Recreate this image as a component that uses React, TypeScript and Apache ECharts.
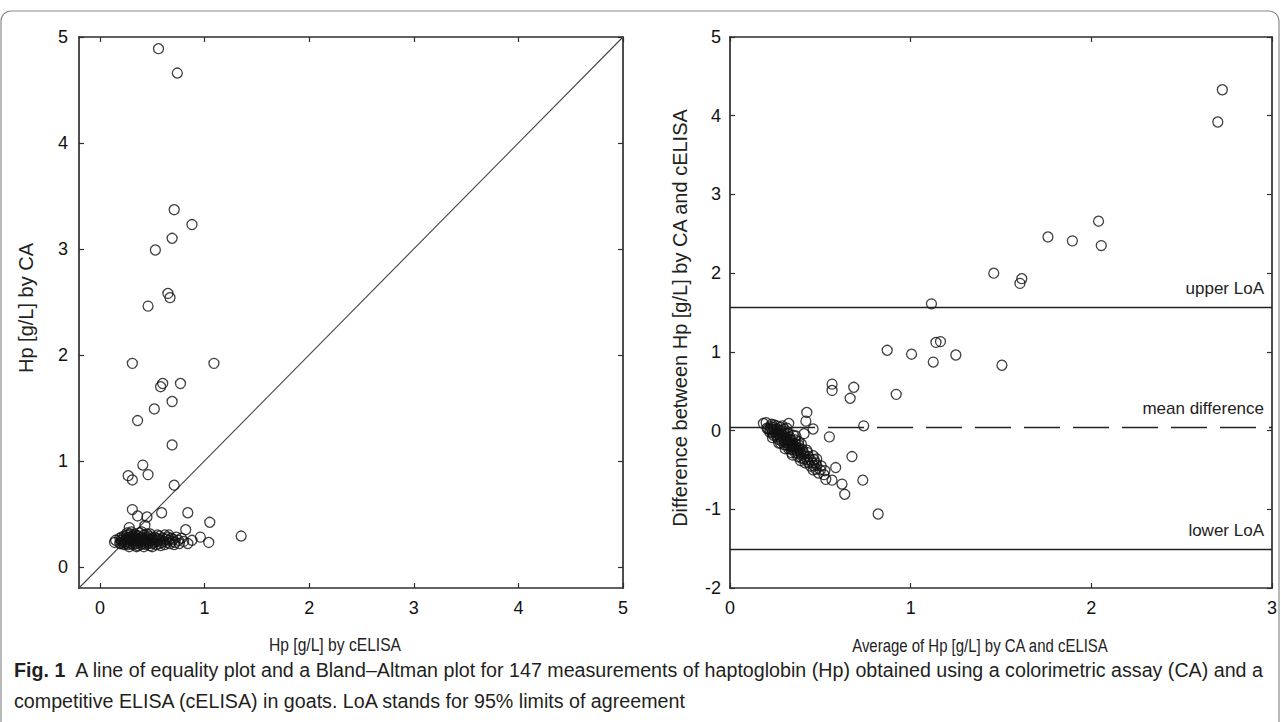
import React, { useEffect, useRef } from "react";
import * as echarts from "echarts";

// Paired measurements (147 goats): cELISA and CA haptoglobin, g/L
const celisaValues = [
  0.56, 0.74, 0.71, 0.88, 0.69, 0.53, 0.65, 0.67, 0.46, 0.31, 1.09, 0.60, 0.58, 0.77, 0.69, 0.52, 0.36, 0.69,
  0.41, 0.46, 0.27, 0.31, 0.71, 0.31, 0.36, 0.45, 0.59, 0.84, 1.05, 1.35, 0.82, 0.28, 0.43, 1.04, 0.96, 0.84,
  0.14, 0.15, 0.19, 0.20, 0.20, 0.21, 0.22, 0.22, 0.23, 0.23,
  0.24, 0.24, 0.25, 0.25, 0.26, 0.26, 0.27, 0.27, 0.28, 0.28,
  0.29, 0.29, 0.30, 0.30, 0.31, 0.31, 0.32, 0.32, 0.33, 0.33,
  0.34, 0.34, 0.35, 0.35, 0.36, 0.36, 0.37, 0.37, 0.38, 0.38,
  0.39, 0.39, 0.40, 0.40, 0.41, 0.41, 0.42, 0.42, 0.43, 0.43,
  0.44, 0.44, 0.45, 0.45, 0.46, 0.46, 0.47, 0.47, 0.48, 0.48,
  0.49, 0.50, 0.50, 0.51, 0.52, 0.52, 0.53, 0.54, 0.54, 0.55,
  0.56, 0.57, 0.57, 0.58, 0.59, 0.60, 0.61, 0.62, 0.63, 0.64,
  0.65, 0.66, 0.67, 0.68, 0.69, 0.70, 0.72, 0.73, 0.75, 0.76,
  0.78, 0.80, 0.45, 0.38, 0.30, 0.26, 0.55, 0.62, 0.35, 0.42,
  0.50, 0.28, 0.58, 0.40, 0.48, 0.33, 0.21, 0.19, 0.66, 0.71, 0.88,
];
const caValues = [
  4.89, 4.66, 3.37, 3.23, 3.10, 2.99, 2.58, 2.54, 2.46, 1.92, 1.92, 1.73, 1.70, 1.73, 1.56, 1.49, 1.38, 1.15,
  0.96, 0.87, 0.86, 0.82, 0.77, 0.54, 0.48, 0.47, 0.51, 0.51, 0.42, 0.29, 0.35, 0.37, 0.39, 0.23, 0.28, 0.22,
  0.23, 0.25, 0.27, 0.25, 0.22, 0.28, 0.24, 0.26, 0.21, 0.29,
  0.25, 0.23, 0.27, 0.22, 0.30, 0.24, 0.26, 0.21, 0.28, 0.23,
  0.25, 0.31, 0.22, 0.27, 0.24, 0.29, 0.26, 0.21, 0.28, 0.23,
  0.25, 0.30, 0.22, 0.27, 0.24, 0.20, 0.26, 0.29, 0.23, 0.25,
  0.27, 0.21, 0.24, 0.28, 0.22, 0.26, 0.25, 0.30, 0.23, 0.27,
  0.21, 0.25, 0.28, 0.24, 0.22, 0.26, 0.29, 0.23, 0.25, 0.20,
  0.27, 0.24, 0.22, 0.26, 0.28, 0.23, 0.25, 0.21, 0.27, 0.24,
  0.26, 0.22, 0.29, 0.25, 0.23, 0.27, 0.24, 0.21, 0.26, 0.23,
  0.28, 0.25, 0.22, 0.27, 0.24, 0.26, 0.23, 0.28, 0.25, 0.22,
  0.27, 0.24, 0.31, 0.32, 0.33, 0.32, 0.30, 0.30, 0.19, 0.19,
  0.19, 0.19, 0.20, 0.33, 0.31, 0.31, 0.23, 0.22, 0.30, 0.21, 0.25,
];

// Bland–Altman reference lines
const meanDifference = 0.04;
const upperLoA = 1.57;
const lowerLoA = -1.51;

const leftTicks = [0, 1, 2, 3, 4, 5];
const leftRange = [-0.2, 5];

const captionLine1 =
  "A line of equality plot and a Bland–Altman plot for 147 measurements of haptoglobin (Hp) obtained using a colorimetric assay (CA) and a";
const captionLine2 =
  "competitive ELISA (cELISA) in goats. LoA stands for 95% limits of agreement";

const AX = "#2e2e2e";
const FONT = "'Liberation Sans', Arial, sans-serif";

function axisBase(extra: any) {
  return {
    type: "value",
    axisLine: { show: true, onZero: false, lineStyle: { color: AX, width: 1.7 } },
    splitLine: { show: false },
    axisTick: { show: true, inside: true, length: 5, lineStyle: { color: AX, width: 1.2 } },
    axisLabel: { show: true, color: "#111", fontSize: 18, fontFamily: FONT },
    ...extra,
  };
}

export default function App() {
  const ref = useRef<HTMLDivElement>(null);
  useEffect(() => {
    document.body.style.margin = "0";
    const chart = echarts.init(ref.current!, null, { renderer: "svg" });
    const leftData = celisaValues.map((c, i) => [c, caValues[i]]);
    const rightData = celisaValues.map((c, i) => [(c + caValues[i]) / 2, caValues[i] - c]);

    const tickL = (vals: number[]) => ({
      axisTick: { show: true, inside: true, length: 5, customValues: vals, lineStyle: { color: AX, width: 1.2 } },
    });
    const lineLabel = (text: string) => ({
      show: true,
      formatter: text,
      position: "insideEndTop",
      color: "#222",
      fontSize: 17,
      fontFamily: FONT,
      distance: [8, 10],
    });
    const markerStyle = { color: "rgba(0,0,0,0)", borderColor: "#111", borderWidth: 1.3 };

    chart.setOption({
      animation: false,
      backgroundColor: "#fff",
      grid: [
        { left: 79, top: 37, width: 544, height: 551 },
        { left: 730, top: 37, width: 542, height: 551 },
      ],
      xAxis: [
        axisBase({
          gridIndex: 0, position: "bottom", min: leftRange[0], max: leftRange[1],
          ...tickL(leftTicks),
          axisLabel: { show: true, customValues: leftTicks, color: "#111", fontSize: 18, fontFamily: FONT, margin: 11 },
        }),
        axisBase({
          gridIndex: 0, position: "top", min: leftRange[0], max: leftRange[1],
          ...tickL(leftTicks), axisLabel: { show: false },
        }),
        axisBase({
          gridIndex: 1, position: "bottom", min: 0, max: 3, interval: 1,
          axisLabel: { show: true, color: "#111", fontSize: 18, fontFamily: FONT, margin: 11 },
        }),
        axisBase({
          gridIndex: 1, position: "top", min: 0, max: 3, interval: 1, axisLabel: { show: false },
        }),
      ],
      yAxis: [
        axisBase({
          gridIndex: 0, position: "left", min: leftRange[0], max: leftRange[1],
          ...tickL(leftTicks),
          axisLabel: { show: true, customValues: leftTicks, color: "#111", fontSize: 18, fontFamily: FONT, margin: 11 },
        }),
        axisBase({
          gridIndex: 0, position: "right", min: leftRange[0], max: leftRange[1],
          ...tickL(leftTicks), axisLabel: { show: false },
        }),
        axisBase({
          gridIndex: 1, position: "left", min: -2, max: 5, interval: 1,
          axisLabel: { show: true, color: "#111", fontSize: 18, fontFamily: FONT, margin: 9 },
        }),
        axisBase({
          gridIndex: 1, position: "right", min: -2, max: 5, interval: 1, axisLabel: { show: false },
        }),
      ],
      series: [
        {
          type: "line",
          xAxisIndex: 0,
          yAxisIndex: 0,
          data: [
            [leftRange[0], leftRange[0]],
            [leftRange[1], leftRange[1]],
          ],
          showSymbol: false,
          symbol: "none",
          lineStyle: { color: "#444", width: 1.1 },
          silent: true,
          z: 1,
        },
        {
          type: "scatter",
          xAxisIndex: 0,
          yAxisIndex: 0,
          data: leftData,
          symbol: "circle",
          symbolSize: 10,
          itemStyle: markerStyle,
          silent: true,
          z: 3,
        },
        {
          type: "scatter",
          xAxisIndex: 2,
          yAxisIndex: 2,
          data: rightData,
          symbol: "circle",
          symbolSize: 10,
          itemStyle: markerStyle,
          silent: true,
          z: 3,
          markLine: {
            silent: true,
            symbol: "none",
            animation: false,
            data: [
              { yAxis: upperLoA, lineStyle: { type: "solid", color: "#222", width: 1.3 }, label: lineLabel("upper LoA") },
              { yAxis: meanDifference, lineStyle: { type: [36, 13], color: "#222", width: 1.3 }, label: lineLabel("mean difference") },
              { yAxis: lowerLoA, lineStyle: { type: "solid", color: "#222", width: 1.3 }, label: lineLabel("lower LoA") },
            ],
          },
        },
      ],
      graphic: [
        {
          type: "rect",
          shape: { x: 1, y: 11, width: 1278, height: 740, r: 10 },
          style: { fill: "none", stroke: "#8a8a8a", lineWidth: 1.2 },
          silent: true,
        },
        {
          type: "text",
          x: 335, y: 645, scaleX: 0.92, scaleY: 1.05,
          style: { text: "Hp [g/L] by cELISA", fill: "#222", font: `17px ${FONT}`, textAlign: "center", textVerticalAlign: "middle" },
        },
        {
          type: "text",
          x: 980, y: 645, scaleX: 0.88, scaleY: 1.05,
          style: { text: "Average of Hp [g/L] by CA and cELISA", fill: "#222", font: `17px ${FONT}`, textAlign: "center", textVerticalAlign: "middle" },
        },
        {
          type: "text",
          x: 26, y: 308, rotation: Math.PI / 2,
          style: { text: "Hp [g/L] by CA", fill: "#222", font: `20px ${FONT}`, textAlign: "center", textVerticalAlign: "middle" },
        },
        {
          type: "text",
          x: 680, y: 318, rotation: Math.PI / 2,
          style: { text: "Difference between Hp [g/L] by CA and cELISA", fill: "#222", font: `20px ${FONT}`, textAlign: "center", textVerticalAlign: "middle" },
        },
        {
          type: "text",
          x: 14, y: 670, scaleX: 0.937,
          style: {
            text: "{b|Fig. 1}  " + captionLine1,
            fill: "#231f20",
            font: `21px ${FONT}`,
            textVerticalAlign: "middle",
            rich: {
              b: { fontWeight: "bold", fontSize: 21, fontFamily: FONT, fill: "#231f20" },
            },
          },
        },
        {
          type: "text",
          x: 14, y: 701, scaleX: 0.937,
          style: {
            text: captionLine2,
            fill: "#231f20",
            font: `21px ${FONT}`,
            textVerticalAlign: "middle",
          },
        },
      ],
    });
    return () => chart.dispose();
  }, []);
  return <div ref={ref} style={{ width: 1281, height: 722 }} />;
}
